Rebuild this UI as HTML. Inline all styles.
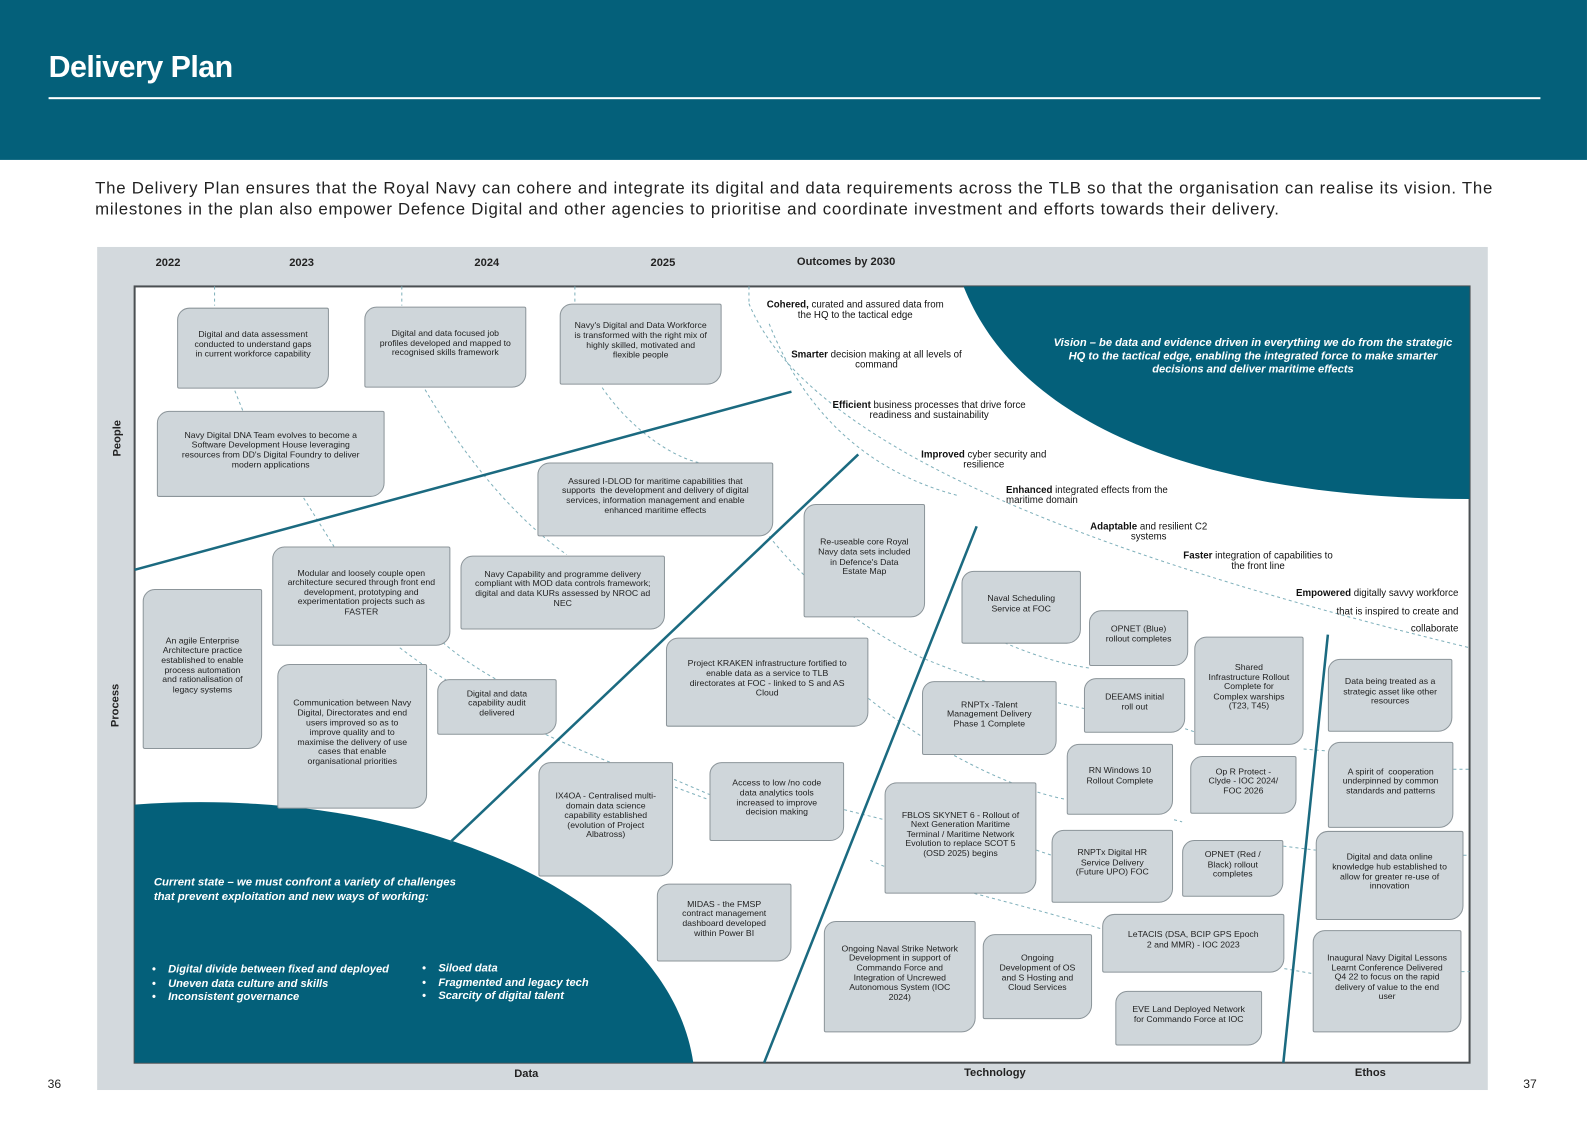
<!DOCTYPE html>
<html><head><meta charset="utf-8">
<style>
*{margin:0;padding:0;box-sizing:border-box}
html,body{width:1587px;height:1122px;overflow:hidden;background:#fff;font-family:"Liberation Sans",Arial,sans-serif}
#wrap{position:absolute;left:0;top:0;width:1568px;height:1109px;transform:scale(1.0121);transform-origin:0 0}
.hdr{position:absolute;left:0;top:0;width:1568px;height:158px;background:#04607a}
.title{position:absolute;left:48px;top:50px;color:#fff;font-size:30px;font-weight:bold;letter-spacing:-0.5px}
.hline{position:absolute;left:48px;top:96px;width:1474px;height:1.5px;background:#fff}
.intro{position:absolute;left:94px;top:175px;white-space:nowrap;font-size:16.6px;letter-spacing:0.73px;line-height:21px;color:#222}
.panel{position:absolute;left:96px;top:244px;width:1374px;height:833px;background:#d3d9dd}
.inner{position:absolute;left:132px;top:282px;width:1321px;height:769px;background:#fff;border:2px solid #4a4f52}
svg{position:absolute;left:0;top:0}
.b{position:absolute;background:#cfd6da;border:1.5px solid #8c959a;border-radius:12px 2px 14px 2px;display:flex;align-items:center;justify-content:center;text-align:center;font-size:8.6px;line-height:9.6px;color:#222;padding:3px 13px 10px}
.lab{position:absolute;font-size:11px;font-weight:bold;color:#222;transform:translateX(-50%)}
.o{position:absolute;font-size:9.6px;line-height:10px;color:#111;text-align:center}
.rot{position:absolute;font-size:11px;font-weight:bold;color:#222;transform:rotate(-90deg);transform-origin:center}
.wt{position:absolute;color:#fff;font-weight:bold;font-style:italic}
</style></head><body><div id="wrap">
<div class="hdr"></div>
<div class="title">Delivery Plan</div>
<div class="hline"></div>
<div class="intro">The Delivery Plan ensures that the Royal Navy can cohere and integrate its digital and data requirements across the TLB so that the organisation can realise its vision. The<br>milestones in the plan also empower Defence Digital and other agencies to prioritise and coordinate investment and efforts towards their delivery.</div>
<div class="panel"></div>
<div class="inner"></div>
<svg width="1568" height="1109">
<path d="M952,283 L1452,283 L1452,493 C1210,493 1010,430 952,283 Z" fill="#04607a"/>
<path d="M133,795 C400,775 660,880 685,1050 L133,1050 Z" fill="#04607a"/>
<g stroke="#7fb0bb" stroke-width="1" fill="none" stroke-dasharray="3,3">
<path d="M212,283 L212,302"/><path d="M397,283 L397,302"/><path d="M568,283 L568,298"/><path d="M740,283 L740,298"/>
<path d="M232,386 L240,406"/><path d="M300,492 L330,540"/>
<path d="M420,385 C470,470 520,520 560,548"/>
<path d="M595,383 C620,420 660,450 690,457"/>
<path d="M740,300 C790,420 1000,530 1452,640"/>
<path d="M760,320 C800,420 870,470 948,490"/>
<path d="M425,622 C440,640 470,660 490,671"/>
<path d="M395,640 C500,720 620,760 700,790"/>
<path d="M760,530 C800,580 850,620 911,650 C960,670 1020,690 1071,700 M1171,720 L1180,723 M1288,740 L1312,742 M1436,760 L1452,760"/>
<path d="M858,690 C920,740 1000,780 1054,790 M1160,810 L1168,812 M1268,836 L1300,840 M1446,845 L1452,845"/>
<path d="M666,770 L701,785 M834,800 L874,810 M1024,840 L1039,845"/>
<path d="M860,850 C900,870 1000,890 1089,918 M1269,957 L1297,962 M1444,960 L1452,960"/>
<path d="M960,620 C1000,640 1040,655 1076,660"/>
</g>
<g stroke="#1b6a80" stroke-width="2.5" fill="none">
<line x1="133" y1="563" x2="782" y2="387"/>
<line x1="445" y1="832" x2="848" y2="449"/>
<line x1="755" y1="1050" x2="965" y2="520"/>
<line x1="1268" y1="1050" x2="1312" y2="627"/>
</g>
</svg>
<div class="lab" style="left:166px;top:254px">2022</div>
<div class="lab" style="left:298px;top:254px">2023</div>
<div class="lab" style="left:481px;top:254px">2024</div>
<div class="lab" style="left:655px;top:254px">2025</div>
<div class="lab" style="left:836px;top:253px">Outcomes by 2030</div>
<div class="rot" style="left:96px;top:427px;width:40px;text-align:center">People</div>
<div class="rot" style="left:91px;top:691px;width:46px;text-align:center">Process</div>
<div class="lab" style="left:520px;top:1055px">Data</div>
<div class="lab" style="left:983px;top:1054px">Technology</div>
<div class="lab" style="left:1354px;top:1054px">Ethos</div>
<div style="position:absolute;left:47px;top:1064px;font-size:12px;color:#222">36</div>
<div style="position:absolute;left:1505px;top:1064px;font-size:12px;color:#222">37</div>

<div class="o" style="left:755px;top:297px;width:180px"><b>Cohered,</b> curated and assured data from the HQ to the tactical edge</div>
<div class="o" style="left:776px;top:346px;width:180px"><b>Smarter</b> decision making at all levels of command</div>
<div class="o" style="left:818px;top:396px;width:200px"><b>Efficient</b> business processes that drive force readiness and sustainability</div>
<div class="o" style="left:902px;top:445px;width:140px"><b>Improved</b> cyber security and resilience</div>
<div class="o" style="left:994px;top:480px;width:180px;text-align:left"><b>Enhanced</b> integrated effects from the maritime domain</div>
<div class="o" style="left:1070px;top:516px;width:130px"><b>Adaptable</b> and resilient C2 systems</div>
<div class="o" style="left:1168px;top:545px;width:150px"><b>Faster</b> integration of capabilities to the front line</div>
<div class="o" style="left:1241px;top:578px;width:200px;text-align:right;line-height:17.5px"><b>Empowered</b> digitally savvy workforce<br>that is inspired to create and<br>collaborate</div>

<div class="wt" style="left:1040px;top:333px;width:396px;text-align:center;font-size:11px;line-height:13px">Vision – be data and evidence driven in everything we do from the strategic HQ to the tactical edge, enabling the integrated force to make smarter decisions and deliver maritime effects</div>
<div class="wt" style="left:152px;top:866px;width:300px;font-size:11.2px;line-height:13.5px">Current state – we must confront a variety of challenges that prevent exploitation and new ways of working:</div>
<div class="wt" style="left:150px;top:952px;font-size:11px;line-height:13.5px">•&nbsp;&nbsp;&nbsp;&nbsp;Digital divide between fixed and deployed<br>•&nbsp;&nbsp;&nbsp;&nbsp;Uneven data culture and skills<br>•&nbsp;&nbsp;&nbsp;&nbsp;Inconsistent governance</div>
<div class="wt" style="left:417px;top:951px;font-size:11px;line-height:13.5px">•&nbsp;&nbsp;&nbsp;&nbsp;Siloed data<br>•&nbsp;&nbsp;&nbsp;&nbsp;Fragmented and legacy tech<br>•&nbsp;&nbsp;&nbsp;&nbsp;Scarcity of digital talent</div>

<div class="b" style="left:175px;top:304px;width:150px;height:80px">Digital and data assessment conducted to understand gaps in current workforce capability</div>
<div class="b" style="left:360px;top:303px;width:160px;height:80px">Digital and data focused job profiles developed and mapped to recognised skills framework</div>
<div class="b" style="left:553px;top:300px;width:160px;height:80px">Navy's Digital and Data Workforce is transformed with the right mix of highly skilled, motivated and flexible people</div>
<div class="b" style="left:155px;top:406px;width:225px;height:85px;padding:3px 22px 10px">Navy Digital DNA Team evolves to become a Software Development House leveraging resources from DD's Digital Foundry to deliver modern applications</div>
<div class="b" style="left:531px;top:457px;width:233px;height:73px;padding:3px 20px 10px">Assured I-DLOD for maritime capabilities that supports&nbsp; the development and delivery of digital services, information management and enable enhanced maritime effects</div>
<div class="b" style="left:794px;top:498px;width:120px;height:112px">Re-useable core Royal Navy data sets included in Defence's Data Estate Map</div>
<div class="b" style="left:269px;top:540px;width:176px;height:98px">Modular and loosely couple open architecture secured through front end development, prototyping and experimentation projects such as FASTER</div>
<div class="b" style="left:455px;top:549px;width:202px;height:73px">Navy Capability and programme delivery compliant with MOD data controls framework; digital and data KURs assessed by NROC ad NEC</div>
<div class="b" style="left:141px;top:582px;width:118px;height:158px">An agile Enterprise Architecture practice established to enable process automation and rationalisation of legacy systems</div>
<div class="b" style="left:274px;top:656px;width:148px;height:143px">Communication between Navy Digital, Directorates and end users improved so as to improve quality and to maximise the delivery of use cases that enable organisational priorities</div>
<div class="b" style="left:432px;top:671px;width:118px;height:55px">Digital and data capability audit delivered</div>
<div class="b" style="left:658px;top:630px;width:200px;height:88px;padding:3px 20px 10px">Project KRAKEN infrastructure fortified to enable data as a service to TLB directorates at FOC - linked to S and AS Cloud</div>
<div class="b" style="left:950px;top:564px;width:118px;height:72px">Naval Scheduling Service at FOC</div>
<div class="b" style="left:1076px;top:603px;width:98px;height:55px">OPNET (Blue) rollout completes</div>
<div class="b" style="left:1180px;top:629px;width:108px;height:107px">Shared Infrastructure Rollout Complete for Complex warships (T23, T45)</div>
<div class="b" style="left:1312px;top:651px;width:123px;height:72px">Data being treated as a strategic asset like other resources</div>
<div class="b" style="left:911px;top:673px;width:133px;height:73px;padding:3px 18px 10px">RNPTx -Talent Management Delivery Phase 1 Complete</div>
<div class="b" style="left:1071px;top:670px;width:100px;height:54px">DEEAMS initial roll out</div>
<div class="b" style="left:1054px;top:735px;width:105px;height:70px">RN Windows 10 Rollout Complete</div>
<div class="b" style="left:1176px;top:747px;width:105px;height:57px">Op R Protect - Clyde - IOC 2024/ FOC 2026</div>
<div class="b" style="left:1312px;top:733px;width:124px;height:85px">A spirit of&nbsp; cooperation underpinned by common standards and patterns</div>
<div class="b" style="left:532px;top:753px;width:133px;height:113px">IX4OA - Centralised multi-domain data science capability established (evolution of Project Albatross)</div>
<div class="b" style="left:701px;top:753px;width:133px;height:78px">Access to low /no code data analytics tools increased to improve decision making</div>
<div class="b" style="left:874px;top:773px;width:150px;height:110px">FBLOS SKYNET 6 - Rollout of Next Generation Maritime Terminal / Maritime Network Evolution to replace SCOT 5 (OSD 2025) begins</div>
<div class="b" style="left:1039px;top:820px;width:120px;height:72px">RNPTx Digital HR Service Delivery (Future UPO) FOC</div>
<div class="b" style="left:1168px;top:830px;width:100px;height:56px">OPNET (Red / Black) rollout completes</div>
<div class="b" style="left:1300px;top:821px;width:146px;height:88px">Digital and data online knowledge hub established to allow for greater re-use of innovation</div>
<div class="b" style="left:649px;top:873px;width:133px;height:77px">MIDAS - the FMSP contract management dashboard developed within Power BI</div>
<div class="b" style="left:1089px;top:903px;width:180px;height:58px;padding:3px 22px 10px">LeTACIS (DSA, BCIP GPS Epoch 2 and MMR) - IOC 2023</div>
<div class="b" style="left:814px;top:910px;width:150px;height:110px">Ongoing Naval Strike Network Development in support of Commando Force and Integration of Uncrewed Autonomous System (IOC 2024)</div>
<div class="b" style="left:971px;top:923px;width:108px;height:84px">Ongoing Development of OS and S Hosting and Cloud Services</div>
<div class="b" style="left:1102px;top:979px;width:145px;height:54px">EVE Land Deployed Network for Commando Force at IOC</div>
<div class="b" style="left:1297px;top:919px;width:147px;height:101px">Inaugural Navy Digital Lessons Learnt Conference Delivered Q4 22 to focus on the rapid delivery of value to the end user</div>
</div></body></html>
